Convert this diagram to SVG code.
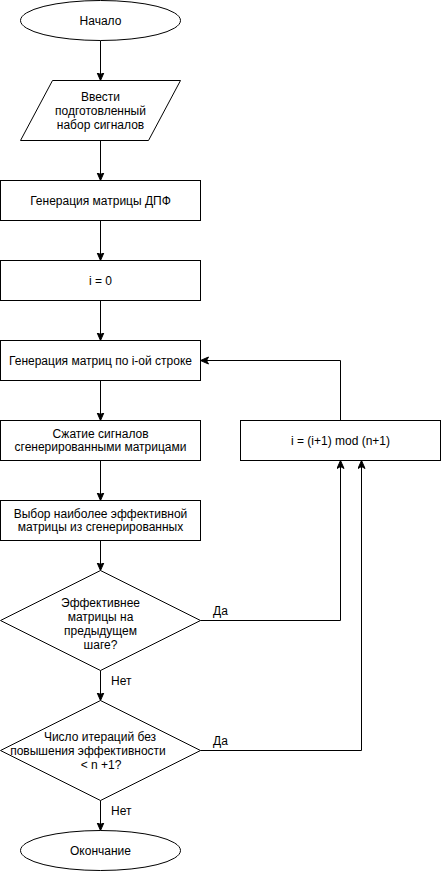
<svg xmlns="http://www.w3.org/2000/svg" width="441" height="871" viewBox="0 0 441 871">
  <style>
    .shape { fill: #ffffff; stroke: #000000; stroke-width: 1; }
    .edge { fill: none; stroke: #000000; stroke-width: 1; }
    text { font-family: "Liberation Sans", Arial, Helvetica, sans-serif; font-size: 12px; fill: #000000; }
    .c { text-anchor: middle; dominant-baseline: central; }
    .lbl { text-anchor: start; dominant-baseline: central; }
  </style>
  <defs>
    <marker id="arrow" markerUnits="userSpaceOnUse" markerWidth="10" markerHeight="10" refX="8" refY="4" orient="auto">
      <path d="M0,0.5 L8,4 L0,7.5 L2,4 Z" fill="#000000" stroke="#000000" stroke-width="1"/>
    </marker>
  </defs>

  <rect width="441" height="871" fill="#ffffff"/>

  <!-- connectors -->
  <g id="connectors">
    <path class="edge" d="M100.5,40.5 V80.5" marker-end="url(#arrow)"/>
    <path class="edge" d="M100.5,140.5 V180.5" marker-end="url(#arrow)"/>
    <path class="edge" d="M100.5,220.5 V260.5" marker-end="url(#arrow)"/>
    <path class="edge" d="M100.5,300.5 V340.5" marker-end="url(#arrow)"/>
    <path class="edge" d="M100.5,380.5 V420.5" marker-end="url(#arrow)"/>
    <path class="edge" d="M100.5,460.5 V500.5" marker-end="url(#arrow)"/>
    <path class="edge" d="M100.5,540.5 V570.5" marker-end="url(#arrow)"/>
    <path class="edge" d="M100.5,670.5 V700.5" marker-end="url(#arrow)"/>
    <path class="edge" d="M100.5,800.5 V830.5" marker-end="url(#arrow)"/>
    <!-- loop back: counter update to row generation -->
    <path class="edge" d="M340.5,420.5 V360.5 H200.5" marker-end="url(#arrow)"/>
    <!-- "yes" branches into counter update -->
    <path class="edge" d="M200.5,620.5 H340.5 V460.5" marker-end="url(#arrow)"/>
    <path class="edge" d="M200.5,750.5 H361.5 V460.5" marker-end="url(#arrow)"/>
    <text class="lbl" x="213" y="611">Да</text>
    <text class="lbl" x="213" y="741">Да</text>
    <text class="lbl" x="111" y="681">Нет</text>
    <text class="lbl" x="111" y="811">Нет</text>
  </g>

  <g id="start">
    <ellipse class="shape" cx="100.5" cy="20.5" rx="80" ry="20"/>
    <text class="c" x="100.5" y="20.5">Начало</text>
  </g>

  <g id="input">
    <polygon class="shape" points="20.5,140.5 52.5,80.5 180.5,80.5 148.5,140.5"/>
    <text class="c" x="100.5" y="96.5">Ввести</text>
    <text class="c" x="100.5" y="110.5">подготовленный</text>
    <text class="c" x="100.5" y="124.5">набор сигналов</text>
  </g>

  <g id="dft">
    <rect class="shape" x="0.5" y="180.5" width="200" height="40"/>
    <text class="c" x="100.5" y="200.5">Генерация матрицы ДПФ</text>
  </g>

  <g id="init">
    <rect class="shape" x="0.5" y="260.5" width="200" height="40"/>
    <text class="c" x="100.5" y="280.5">i = 0</text>
  </g>

  <g id="gen-row">
    <rect class="shape" x="0.5" y="340.5" width="200" height="40"/>
    <text class="c" x="100.5" y="360.5">Генерация матриц по i-ой строке</text>
  </g>

  <g id="compress">
    <rect class="shape" x="0.5" y="420.5" width="200" height="40"/>
    <text class="c" x="100.5" y="434">Сжатие сигналов</text>
    <text class="c" x="100.5" y="447">сгенерированными матрицами</text>
  </g>

  <g id="increment">
    <rect class="shape" x="240.5" y="420.5" width="200" height="40"/>
    <text class="c" x="340.5" y="440.5">i = (i+1) mod (n+1)</text>
  </g>

  <g id="select">
    <rect class="shape" x="0.5" y="500.5" width="200" height="40"/>
    <text class="c" x="100.5" y="514">Выбор наиболее эффективной</text>
    <text class="c" x="100.5" y="527">матрицы из сгенерированных</text>
  </g>

  <g id="check-better">
    <polygon class="shape" points="100.5,570.5 200.5,620.5 100.5,670.5 0.5,620.5"/>
    <text class="c" x="100.5" y="603">Эффективнее</text>
    <text class="c" x="100.5" y="617">матрицы на</text>
    <text class="c" x="100.5" y="631">предыдущем</text>
    <text class="c" x="100.5" y="645">шаге?</text>
  </g>

  <g id="check-iterations">
    <polygon class="shape" points="100.5,700.5 200.5,750.5 100.5,800.5 0.5,750.5"/>
    <text class="c" x="100" y="737">Число итераций без</text>
    <text class="c" x="88" y="751">повышения эффективности</text>
    <text class="c" x="101" y="765">&lt; n +1?</text>
  </g>

  <g id="end">
    <ellipse class="shape" cx="100.5" cy="850.5" rx="80" ry="20"/>
    <text class="c" x="100.5" y="850.5">Окончание</text>
  </g>
</svg>
